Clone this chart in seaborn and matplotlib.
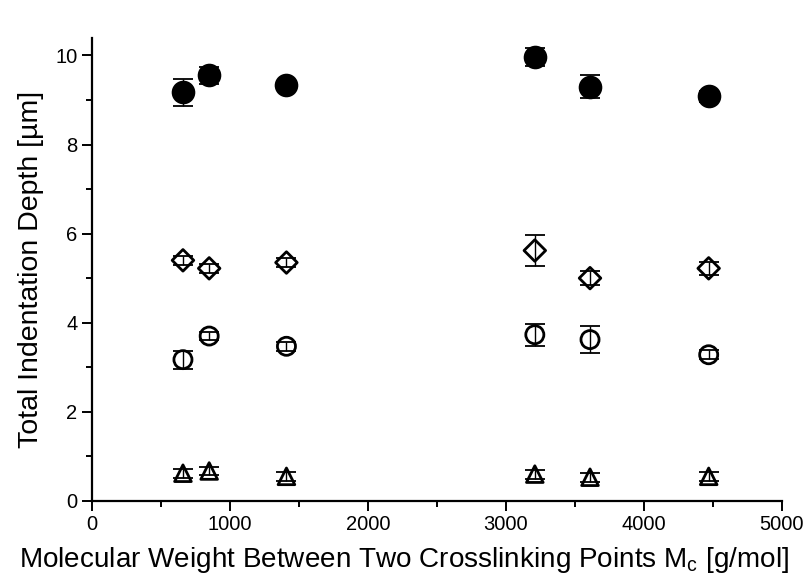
import matplotlib
matplotlib.use("Agg")
import matplotlib.pyplot as plt
import seaborn as sns
import numpy as np
import pandas as pd
from matplotlib.ticker import MultipleLocator

mw = [660, 850, 1410, 3210, 3610, 4470]

filled_circle = [9.17, 9.55, 9.33, 9.97, 9.30, 9.08]
filled_circle_err = [0.30, 0.20, 0.10, 0.20, 0.25, 0.12]

diamond = [5.40, 5.22, 5.35, 5.62, 5.00, 5.22]
diamond_err = [0.10, 0.10, 0.10, 0.35, 0.15, 0.15]

open_circle = [3.17, 3.70, 3.47, 3.73, 3.62, 3.28]
open_circle_err = [0.20, 0.10, 0.10, 0.25, 0.30, 0.10]

triangle = [0.62, 0.67, 0.55, 0.60, 0.53, 0.55]
triangle_err = [0.10, 0.08, 0.10, 0.10, 0.10, 0.10]

sns.set_style("ticks")
plt.rcParams['font.family'] = ['Liberation Sans', 'DejaVu Sans']
plt.rcParams['mathtext.fontset'] = 'custom'
plt.rcParams['mathtext.rm'] = 'Liberation Sans'
plt.rcParams['text.color'] = 'black'
plt.rcParams['axes.labelcolor'] = 'black'

fig = plt.figure(figsize=(8.06, 5.79), dpi=100)
ax = fig.add_axes([0.114, 0.135, 0.856, 0.80])

series = [
    ("filled", filled_circle, filled_circle_err, "o", 15, "black"),
    ("diamond", diamond, diamond_err, "D", 11, "none"),
    ("ocircle", open_circle, open_circle_err, "o", 13, "none"),
    ("triangle", triangle, triangle_err, "^", 12, "none"),
]

for name, vals, errs, mk, ms, fc in series:
    ax.errorbar(mw, vals, yerr=errs, fmt="none", ecolor="black", elinewidth=1.0,
                capsize=7, capthick=1.3, zorder=2)
    df = pd.DataFrame({"x": mw, "y": vals})
    sns.scatterplot(data=df, x="x", y="y", ax=ax, marker=mk, s=ms**2,
                    facecolor=fc if fc != "none" else "white",
                    edgecolor="black", linewidth=2.0, zorder=3, legend=False)
    if fc == "none":
        ax.collections[-1].set_facecolor("none")

ax.set_xlim(0, 5000)
ax.set_ylim(0, 10.4)
ax.xaxis.set_major_locator(MultipleLocator(1000))
ax.xaxis.set_minor_locator(MultipleLocator(500))
ax.yaxis.set_major_locator(MultipleLocator(2))
ax.yaxis.set_minor_locator(MultipleLocator(1))
ax.tick_params(which="major", length=7, width=1.4, labelsize=14.5, direction="out",
               colors="black")
ax.tick_params(which="minor", length=4, width=1.4, direction="out", colors="black")
for s in ["left", "bottom"]:
    ax.spines[s].set_linewidth(1.6)
    ax.spines[s].set_color("black")
sns.despine(ax=ax)

ax.set_xlabel(r"Molecular Weight Between Two Crosslinking Points M$_\mathregular{c}$ [g/mol]",
              fontsize=20.1)
ax.xaxis.set_label_coords(0.452, -0.096)
ax.set_ylabel("Total Indentation Depth [µm]", fontsize=20.5, labelpad=8)

fig.savefig("out.png", dpi=100)
